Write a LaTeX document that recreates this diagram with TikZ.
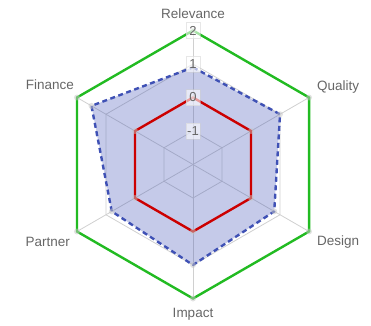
\documentclass[tikz,border=0pt]{standalone}
\usepackage{fontspec}
\setmainfont{Liberation Sans}
\usetikzlibrary{calc}
\definecolor{gitter}{HTML}{D0D0D0}
\definecolor{schrift}{HTML}{666666}
\definecolor{ziel}{HTML}{22BB22}
\definecolor{basis}{HTML}{CC0000}
\definecolor{wert}{HTML}{3F51B5}

\begin{document}
\begin{tikzpicture}[
    x=1pt, y=1pt,
    gitterlinie/.style={gitter, line width=0.8pt},
    achsentext/.style={text=schrift, font=\fontsize{13.5}{15}\selectfont, inner sep=0pt},
    skalentext/.style={text=schrift, font=\fontsize{13}{14}\selectfont,
        fill=white, fill opacity=0.6, text opacity=1, draw=gitter, draw opacity=0.5,
        minimum width=14pt, minimum height=16pt, inner sep=1pt},
    punkt/.style={circle, fill=gray!45, fill opacity=0.5, inner sep=0pt, minimum size=6pt},
    zielpolygon/.style={ziel, line width=2.4pt, line join=miter},
    basispolygon/.style={basis, line width=2.4pt, line join=miter},
    wertpolygon/.style={wert, line width=2.4pt, dash pattern=on 5pt off 3.5pt, line join=round},
  ]

  % Rahmen
  \useasboundingbox (0,0) rectangle (371,325);

  % Mittelpunkt und Einheit (Wert -2 liegt im Zentrum)
  \def\einheit{33.5}
  \coordinate (mitte) at (193,160.5);

  % Achsen
  \foreach \i/\w in {1/90,2/30,3/-30,4/-90,5/210,6/150} {
    \coordinate (a\i) at ($(mitte)+(\w:4*\einheit)$);
    \draw[gitterlinie] (mitte) -- (a\i);
  }

  % Gitterringe (-1, 0, 1)
  \foreach \r in {1,2,3} {
    \draw[gitterlinie] ($(mitte)+(90:\r*\einheit)$)
      \foreach \w in {30,-30,-90,210,150} { -- ($(mitte)+(\w:\r*\einheit)$) } -- cycle;
  }

  % Datenpunkte
  \foreach \i/\w/\v in {1/90/0.9,2/30/1,3/-30/0.8,4/-90/1,5/210/0.8,6/150/1.5} {
    \coordinate (d\i) at ($(mitte)+(\w:{(\v+2)*\einheit})$);
    \coordinate (b\i) at ($(mitte)+(\w:2*\einheit)$);
  }

  % Flaeche der Werte
  \fill[wert, opacity=0.3] (d1) -- (d2) -- (d3) -- (d4) -- (d5) -- (d6) -- cycle;

  % Polygone
  \draw[basispolygon] (b1) -- (b2) -- (b3) -- (b4) -- (b5) -- (b6) -- cycle;
  \draw[zielpolygon] (a1) -- (a2) -- (a3) -- (a4) -- (a5) -- (a6) -- cycle;
  \draw[wertpolygon] (d1) -- (d2) -- (d3) -- (d4) -- (d5) -- (d6) -- cycle;

  % Markierungen
  \foreach \i in {1,...,6} {
    \node[punkt] (pa\i) at (a\i) {};
    \node[punkt] (pb\i) at (b\i) {};
    \node[punkt] (pd\i) at (d\i) {};
  }

  % Skala
  \foreach \r/\t in {1/-1,2/0,3/1,4/2} {
    \node[skalentext] (s\r) at ($(mitte)+(90:\r*\einheit)$) {\t};
  }

  % Achsenbeschriftungen
  \node[achsentext] (relevance) at (193,311) {Relevance};
  \node[achsentext, anchor=west] (quality) at (317,238) {Quality};
  \node[achsentext, anchor=west] (design) at (317,83) {Design};
  \node[achsentext] (impact) at (193,11) {Impact};
  \node[achsentext, anchor=east] (partner) at (70,83) {Partner};
  \node[achsentext, anchor=east] (finance) at (74,240) {Finance};

\end{tikzpicture}
\end{document}
